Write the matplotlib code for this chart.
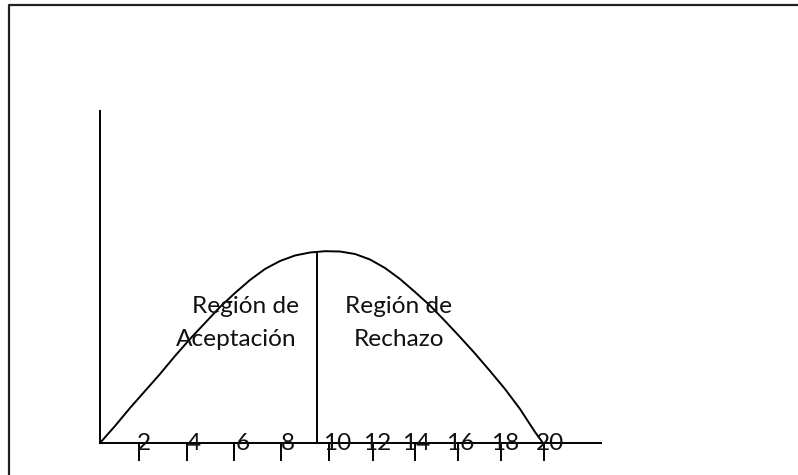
import matplotlib
matplotlib.use("Agg")
import matplotlib.pyplot as plt

# Curve (x position, height above the axis)
curve_x = [100, 115, 130, 145, 160, 175, 190, 205, 220, 235, 250, 265, 280, 295, 310, 325,
           340, 355, 370, 385, 400, 415, 430, 445, 460, 475, 490, 505, 520, 535, 543]
curve_h = [0, 17, 35, 52, 69, 87, 104, 120, 136, 150, 163, 174, 182, 187.5, 190.5, 191.8,
           191.5, 189, 183.5, 175, 164, 151, 137.5, 122, 106, 89.5, 72, 54, 34, 11, 0]

# Tick marks and labels (uneven spacing as drawn)
tick_labels = ["2", "4", "6", "8", "10", "12", "14", "16", "18", "20"]
tick_pos = [139, 187, 234, 281, 329, 373, 415, 458, 501, 544]
label_pos = [143.5, 194, 243, 288, 337, 377, 416, 460, 505, 550]

# Axis extents and split line
axis_x0, axis_x1 = 100, 601
yaxis_top = 332
split_x = 317
split_top = 191

FONT = ["Lato", "DejaVu Sans"]
FS = 17.6
LW = 1.4

fig = plt.figure(figsize=(7.98, 4.75), dpi=100)
ax = fig.add_axes([0, 0, 1, 1])
ax.set_xlim(0, 798)
ax.set_ylim(-32, 443)
ax.axis("off")

# Page border (left and top)
ax.plot([8.5, 8.5, 798], [-40, 438, 438], color="#222222", lw=1.6, solid_capstyle="butt")

# Axes lines
ax.plot([axis_x0, axis_x0], [0, yaxis_top], color="black", lw=LW)
ax.plot([axis_x0, axis_x1], [0, 0], color="black", lw=LW)

# Ticks
for t in tick_pos:
    ax.plot([t, t], [0, -17], color="black", lw=LW)

# Labels
for lab, p in zip(tick_labels, label_pos):
    ax.text(p, -1, lab, ha="center", va="center", fontsize=FS, family=FONT, color="#111111")

# Curve
ax.plot(curve_x, curve_h, color="black", lw=LW, solid_joinstyle="round")

# Split line
ax.plot([split_x, split_x], [0, split_top], color="black", lw=LW)

# Region texts
ax.text(191.7, 443 - 313, "Región de", ha="left", va="baseline", fontsize=FS, family=FONT, color="#111111")
ax.text(176, 443 - 346, "Aceptación", ha="left", va="baseline", fontsize=FS, family=FONT, color="#111111")
ax.text(399, 443 - 313, "Región de", ha="center", va="baseline", fontsize=FS, family=FONT, color="#111111")
ax.text(399, 443 - 346, "Rechazo", ha="center", va="baseline", fontsize=FS, family=FONT, color="#111111")

fig.savefig("out.png", dpi=100)
